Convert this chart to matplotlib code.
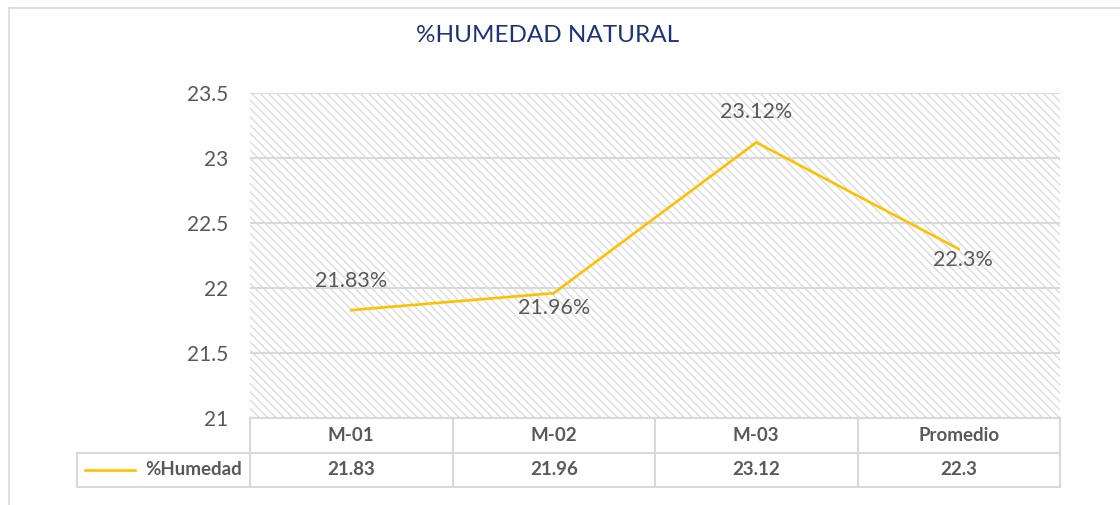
import matplotlib
matplotlib.use("Agg")
import matplotlib.pyplot as plt
from matplotlib.patches import Rectangle
from matplotlib.lines import Line2D
import matplotlib.transforms as mtransforms

plt.rcParams['font.family'] = ['Lato', 'DejaVu Sans']
plt.rcParams['hatch.linewidth'] = 1.0

# data
categories = ['M-01', 'M-02', 'M-03', 'Promedio']
humedad = [21.83, 21.96, 23.12, 22.3]
series_name = '%Humedad'
yticks = [21, 21.5, 22, 22.5, 23, 23.5]
title = '%HUMEDAD NATURAL'

LINE_COLOR = '#FFC000'
TEXT_COLOR = '#595959'
GRID_COLOR = '#D9D9D9'

W, H = 1120, 505
fig = plt.figure(figsize=(W / 100, H / 100), dpi=100)
ax = fig.add_axes([250 / W, 1 - 418 / H, 810 / W, 325 / H])

# hatched plot background
bg = Rectangle((0, 0), 1, 1, transform=ax.transAxes, facecolor='white',
               edgecolor='#DCDCDC', hatch='\\\\\\\\', linewidth=0, zorder=0)
ax.add_patch(bg)

x = list(range(len(categories)))
ax.plot(x, humedad, color=LINE_COLOR, linewidth=1.9, zorder=3,
        solid_joinstyle='miter')

# value labels
offsets = [(0, 21), (0, -11), (0, 22), (3, -8)]
for xi, v, off in zip(x, humedad, offsets):
    ax.annotate(f'{v:g}%', (xi, v), xytext=off, textcoords='offset points',
                ha='center', va='center', fontsize=15.5, color=TEXT_COLOR, zorder=4)

ax.set_xlim(-0.5, len(categories) - 0.5)
ax.set_ylim(yticks[0], yticks[-1])
ax.set_yticks(yticks)
ax.set_yticklabels([f'{t:g}' for t in yticks])
ax.tick_params(axis='y', length=0, pad=16, labelsize=15, labelcolor=TEXT_COLOR)
ax.set_xticks([])
for s in ax.spines.values():
    s.set_visible(False)
ax.yaxis.grid(True, color=GRID_COLOR, linewidth=1.5)
ax.set_axisbelow(True)

# title
fig.text(548 / W, 1 - 36 / H, title, ha='center', va='center',
         fontsize=17.5, color='#1F3478')

# data table below the axes
trans = mtransforms.blended_transform_factory(ax.transData, ax.transAxes)
row_h = 34.5 / 325
legend_left = -173 / 810
line_kw = dict(color=GRID_COLOR, linewidth=1.5, clip_on=False, zorder=5)

n = len(categories)
ax.plot([-0.5, n - 0.5], [0, 0], transform=trans, **line_kw)
for r in (1, 2):
    ax.plot([legend_left, 1], [-r * row_h, -r * row_h], transform=ax.transAxes, **line_kw)
for b in [i - 0.5 for i in range(n + 1)]:
    ax.plot([b, b], [0, -2 * row_h], transform=trans, **line_kw)
ax.plot([legend_left, legend_left], [-row_h, -2 * row_h], transform=ax.transAxes, **line_kw)

for xi, cat, v in zip(x, categories, humedad):
    ax.text(xi, -0.5 * row_h, cat, transform=trans, ha='center', va='center',
            fontsize=13.5, fontweight='bold', color=TEXT_COLOR)
    ax.text(xi, -1.5 * row_h, f'{v:g}', transform=trans, ha='center', va='center',
            fontsize=13.5, fontweight='bold', color=TEXT_COLOR)

# legend key in the table
ax.plot([-165 / 810, -115 / 810], [-1.5 * row_h, -1.5 * row_h], transform=ax.transAxes,
        color=LINE_COLOR, linewidth=1.9, clip_on=False)
ax.text(-8 / 810, -1.5 * row_h, series_name, transform=ax.transAxes, ha='right',
        va='center', fontsize=13.5, fontweight='bold', color=TEXT_COLOR)

# chart area border
fig.add_artist(Line2D([8.5 / W, 1], [1 - 7.5 / H, 1 - 7.5 / H], color=GRID_COLOR, linewidth=1.2))
fig.add_artist(Line2D([8.5 / W, 8.5 / W], [0, 1 - 7.5 / H], color=GRID_COLOR, linewidth=1.2))

fig.savefig('out.png', dpi=100)
